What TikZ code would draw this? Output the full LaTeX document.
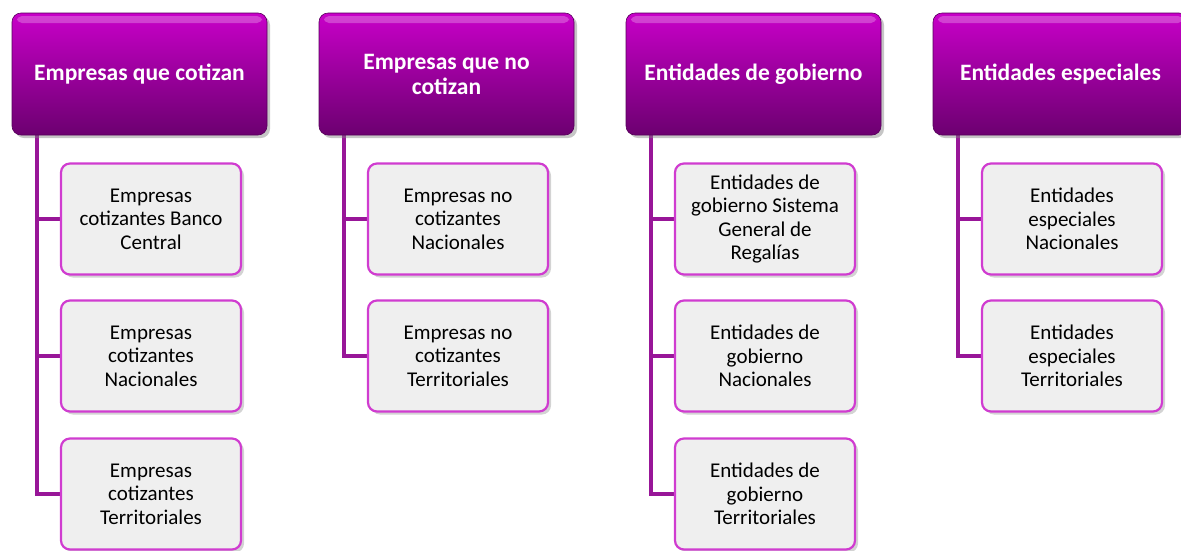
\documentclass[tikz,border=0pt]{standalone}
\usepackage{fontspec}
\setmainfont{Carlito}
\usepackage{tikz}
\usetikzlibrary{calc,positioning,shadows,backgrounds}
\definecolor{HeadTop}{RGB}{200,0,200}
\definecolor{HeadBot}{RGB}{108,0,112}
\definecolor{BoxFill}{RGB}{239,239,239}
\definecolor{BoxLine}{RGB}{208,60,208}
\definecolor{SpineCol}{RGB}{152,22,152}
\tikzset{
    headbox/.style={rectangle,rounded corners=9pt,minimum width=255pt,minimum height=122pt,
        top color=HeadTop,bottom color=HeadBot,draw=HeadBot!80!black,line width=0.6pt,
        text=white,align=center,font=\fontsize{23.5}{25}\selectfont\bfseries,
        drop shadow={shadow xshift=3pt,shadow yshift=-3pt,opacity=0.45},
        path picture={\fill[white,opacity=0.25,rounded corners=5pt]
            ($(path picture bounding box.north west)+(5pt,-3pt)$) rectangle
            ($(path picture bounding box.north east)+(-5pt,-10pt)$);}},
    leafbox/.style={rectangle,rounded corners=9pt,minimum width=180pt,minimum height=111pt,
        fill=BoxFill,draw=BoxLine,line width=2.2pt,align=center,
        font=\fontsize{21}{23.5}\selectfont,
        drop shadow={shadow xshift=3pt,shadow yshift=-3pt,opacity=0.35}},
    spine/.style={SpineCol,line width=4.5pt}
}
\begin{document}
\begin{tikzpicture}[x=1pt,y=-1pt]
\useasboundingbox (0,0) rectangle (1181,550);

% headers
\node[headbox] (h1) at (139.5,74) {Empresas que cotizan};
\node[headbox] (h2) at (446.5,74) {Empresas que no\\cotizan};
\node[headbox] (h3) at (753.5,74) {Entidades de gobierno};
\node[headbox] (h4) at (1060.5,74) {Entidades especiales};

% spine start points
\coordinate (s1) at (37,135);
\coordinate (s2) at (344,135);
\coordinate (s3) at (651,135);
\coordinate (s4) at (958,135);

% leaves
\node[leafbox] (e1) at (151,219) {Empresas\\cotizantes Banco\\Central};
\node[leafbox] (e2) at (151,356) {Empresas\\cotizantes\\Nacionales};
\node[leafbox] (e3) at (151,494) {Empresas\\cotizantes\\Territoriales};

\node[leafbox] (n1) at (458,219) {Empresas no\\cotizantes\\Nacionales};
\node[leafbox] (n2) at (458,356) {Empresas no\\cotizantes\\Territoriales};

\node[leafbox] (g1) at (765,219) {Entidades de\\gobierno Sistema\\General de\\Regalías};
\node[leafbox] (g2) at (765,356) {Entidades de\\gobierno\\Nacionales};
\node[leafbox] (g3) at (765,494) {Entidades de\\gobierno\\Territoriales};

\node[leafbox] (x1) at (1072,219) {Entidades\\especiales\\Nacionales};
\node[leafbox] (x2) at (1072,356) {Entidades\\especiales\\Territoriales};

% connectors
\begin{scope}[on background layer]
\draw[spine] (s1) |- (e3.west);
\draw[spine] (s1 |- e1.west) -- (e1.west);
\draw[spine] (s1 |- e2.west) -- (e2.west);

\draw[spine] (s2) |- (n2.west);
\draw[spine] (s2 |- n1.west) -- (n1.west);

\draw[spine] (s3) |- (g3.west);
\draw[spine] (s3 |- g1.west) -- (g1.west);
\draw[spine] (s3 |- g2.west) -- (g2.west);

\draw[spine] (s4) |- (x2.west);
\draw[spine] (s4 |- x1.west) -- (x1.west);
\end{scope}
\end{tikzpicture}
\end{document}
